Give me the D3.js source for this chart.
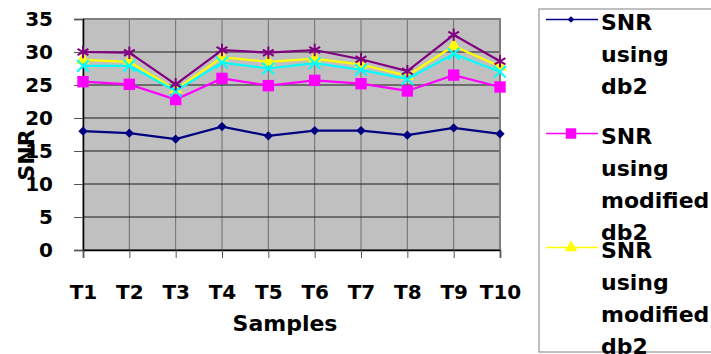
<!DOCTYPE html>
<html>
<head>
<meta charset="utf-8">
<script src="https://cdn.jsdelivr.net/npm/d3@7"></script>
<style>
  html, body { margin: 0; padding: 0; background: #fff; }
  svg { display: block; }
  text { font-family: "DejaVu Sans", Verdana, sans-serif; font-weight: bold; fill: #000; }
</style>
</head>
<body>
<svg id="chart" width="711" height="354"></svg>
<script>
// Samples on the x axis
const samples = ["T1", "T2", "T3", "T4", "T5", "T6", "T7", "T8", "T9", "T10"];
// Y axis ticks
const yTicks = [0, 5, 10, 15, 20, 25, 30, 35];

// SNR per sample for each method
const snrDb2      = [18.0, 17.7, 16.8, 18.7, 17.3, 18.1, 18.1, 17.4, 18.5, 17.6];
const snrModDb2A  = [25.5, 25.1, 22.8, 26.0, 24.9, 25.7, 25.2, 24.1, 26.5, 24.7];
const snrModDb2B  = [28.8, 28.5, 24.3, 29.2, 28.5, 29.0, 28.1, 26.4, 30.9, 27.8];
const snrModDb2C  = [27.9, 27.9, 24.1, 28.4, 27.5, 28.3, 27.3, 25.9, 29.7, 27.0];
const snrModDb2D  = [30.0, 29.9, 25.1, 30.3, 29.9, 30.3, 28.9, 27.1, 32.6, 28.6];

const seriesNames = ["SNR using db2", "SNR using modified db2", "SNR using modified db2",
                     "SNR using modified db2", "SNR using modified db2"];
const seriesColors = ["#000080", "#FF00FF", "#FFFF00", "#00FFFF", "#800080"];

const series = [
  { name: seriesNames[0], color: seriesColors[0], values: snrDb2,     symbol: d3.symbolDiamond2, size: 55,  legendSize: 28, filled: true },
  { name: seriesNames[1], color: seriesColors[1], values: snrModDb2A, symbol: d3.symbolSquare,   size: 130, legendSize: 110, filled: true },
  { name: seriesNames[2], color: seriesColors[2], values: snrModDb2B, symbol: d3.symbolTriangle, size: 80,  legendSize: 70, filled: true },
  { name: seriesNames[3], color: seriesColors[3], values: snrModDb2C, symbol: d3.symbolTimes,    size: 90,  legendSize: 70, filled: false },
  { name: seriesNames[4], color: seriesColors[4], values: snrModDb2D, symbol: d3.symbolAsterisk, size: 110, legendSize: 80, filled: false }
];

const svg = d3.select("#chart");
const W = 711, H = 354;
const plot = { left: 83, right: 500, top: 19, bottom: 250 };

const x = d3.scalePoint().domain(samples).range([plot.left, plot.right]).padding(0);
const y = d3.scaleLinear().domain([0, 35]).range([plot.bottom, plot.top]);

// Plot background
svg.append("rect")
  .attr("x", plot.left).attr("y", plot.top)
  .attr("width", plot.right - plot.left).attr("height", plot.bottom - plot.top)
  .attr("fill", "#C0C0C0");

// Vertical grid lines
svg.append("g").selectAll("line").data(samples).join("line")
  .attr("x1", d => x(d)).attr("x2", d => x(d))
  .attr("y1", plot.top).attr("y2", plot.bottom)
  .attr("stroke", "#6e6e6e").attr("stroke-width", 1);

// Horizontal grid lines
svg.append("g").selectAll("line").data(yTicks).join("line")
  .attr("x1", plot.left).attr("x2", plot.right)
  .attr("y1", d => y(d)).attr("y2", d => y(d))
  .attr("stroke", "#1a1a1a").attr("stroke-width", 1);

// Plot frame: grey top/right, black axes
svg.append("path")
  .attr("d", `M${plot.left},${plot.top}H${plot.right}V${plot.bottom}`)
  .attr("fill", "none").attr("stroke", "#808080").attr("stroke-width", 2);

const tickFont = "20px";
const titleFont = "22px";

// Y axis
const yAxis = svg.append("g")
  .attr("transform", `translate(${plot.left},0)`)
  .call(d3.axisLeft(y).tickValues(yTicks).tickSize(9).tickPadding(21).tickFormat(d3.format("d")));
yAxis.select(".domain").attr("stroke", "#000").attr("stroke-width", 1.5);
yAxis.selectAll(".tick line").attr("stroke", "#555");
yAxis.selectAll(".tick text")
  .style("font-family", "DejaVu Sans, sans-serif").style("font-weight", "bold")
  .style("font-size", tickFont).attr("fill", "#000");

// X axis
const xAxis = svg.append("g")
  .attr("transform", `translate(0,${plot.bottom})`)
  .call(d3.axisBottom(x).tickSize(8).tickPadding(27));
xAxis.select(".domain").attr("stroke", "#000").attr("stroke-width", 1.5);
xAxis.selectAll(".tick line").attr("stroke", "#555");
xAxis.selectAll(".tick text")
  .style("font-family", "DejaVu Sans, sans-serif").style("font-weight", "bold")
  .style("font-size", tickFont).attr("fill", "#000");

// Axis titles
svg.append("text")
  .attr("x", 285).attr("y", 331)
  .attr("text-anchor", "middle")
  .style("font-size", titleFont)
  .text("Samples");

svg.append("text")
  .attr("transform", "translate(34,155) rotate(-90)")
  .attr("text-anchor", "middle")
  .style("font-size", "22px")
  .text("SNR");

// Lines and markers
const line = d3.line().x((d, i) => x(samples[i])).y(d => y(d));

series.forEach(s => {
  const g = svg.append("g");
  g.append("path")
    .attr("d", line(s.values))
    .attr("fill", "none").attr("stroke", s.color).attr("stroke-width", 2.2);
  g.selectAll("path.m").data(s.values).join("path")
    .attr("class", "m")
    .attr("transform", (d, i) => `translate(${x(samples[i])},${y(d)})`)
    .attr("d", d3.symbol().type(s.symbol).size(s.size))
    .attr("fill", s.filled ? s.color : "none")
    .attr("stroke", s.color).attr("stroke-width", s.filled ? 0 : 2);
});

// Legend: fixed-height entries, words stacked one per line
const legend = { left: 539, top: 9, bottom: 352, entryStep: 114, firstBase: 30, lineGap: 32 };
svg.append("rect")
  .attr("x", legend.left).attr("y", legend.top)
  .attr("width", W - legend.left + 5).attr("height", legend.bottom - legend.top)
  .attr("fill", "#fff").attr("stroke", "#808080").attr("stroke-width", 1);

series.forEach((s, i) => {
  const base = legend.firstBase + i * legend.entryStep;
  if (base > H) return;
  const g = svg.append("g");
  const ly = base - 10.5;
  g.append("line")
    .attr("x1", 546).attr("x2", 598).attr("y1", ly).attr("y2", ly)
    .attr("stroke", s.color).attr("stroke-width", 1.5);
  g.append("path")
    .attr("transform", `translate(571,${ly})`)
    .attr("d", d3.symbol().type(s.symbol).size(s.legendSize))
    .attr("fill", s.filled ? s.color : "none")
    .attr("stroke", s.color).attr("stroke-width", s.filled ? 0 : 2);
  const t = g.append("text")
    .attr("x", 601).attr("y", base)
    .style("font-size", titleFont);
  s.name.split(" ").forEach((w, k) => {
    t.append("tspan").attr("x", 601).attr("y", base + k * legend.lineGap).text(w);
  });
});
</script>
</body>
</html>
